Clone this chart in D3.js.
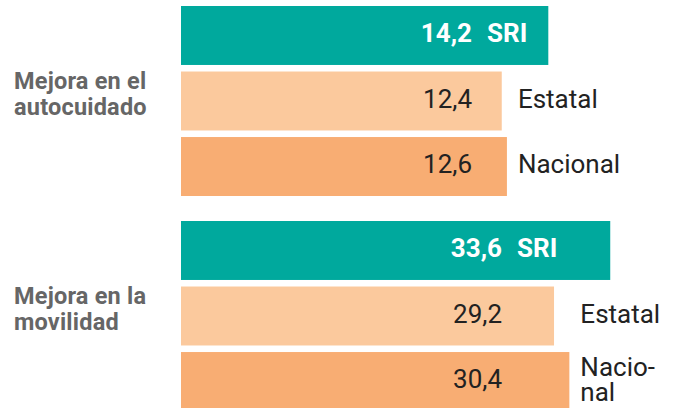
<!DOCTYPE html>
<html>
<head>
<meta charset="utf-8">
<script src="https://cdn.jsdelivr.net/npm/d3@7"></script>
<style>
  html, body { margin: 0; padding: 0; background: #fff; }
  svg { display: block; font-family: Roboto, "Noto Sans", sans-serif; }
</style>
</head>
<body>
<svg id="chart" width="678" height="408"></svg>
<script>
// Indicator groups and their two-line titles
const groups = ["autocuidado", "movilidad"];
const groupTitles = [["Mejora en el", "autocuidado"], ["Mejora en la", "movilidad"]];

// Comparison series (bar order within each group)
const series = ["SRI", "Estatal", "Nacional"];

// Values per group, in series order
const autocuidadoValues = [14.2, 12.4, 12.6];
const movilidadValues = [33.6, 29.2, 30.4];

// Series names written beside the orange bars of each group
const autocuidadoNames = [["Estatal"], ["Nacional"]];
const movilidadNames = [["Estatal"], ["Nacio-", "nal"]];

const values = [autocuidadoValues, movilidadValues];
const names = [autocuidadoNames, movilidadNames];

const colors = { SRI: "#00A99D", Estatal: "#FBC99D", Nacional: "#F8AD73" };

const fmt = d3.formatLocale({ decimal: ",", thousands: ".", grouping: [3], currency: ["", ""] }).format(".1f");

const svg = d3.select("#chart");
const left = 181;

// Each group is drawn on its own horizontal scale
const xScales = [
  d3.scaleLinear().domain([0, 15]).range([left, left + 388]),
  d3.scaleLinear().domain([0, 40]).range([left, left + 511])
];
// Right edge of the value labels in each group
const valueEnd = [472, 502];

const yGroup = d3.scaleBand().domain(groups).range([6, 411]).paddingInner(25 / 215);
const yBar = d3.scaleBand().domain(series).range([0, yGroup.bandwidth()]).paddingInner(0.1);

groups.forEach((g, gi) => {
  const x = xScales[gi];
  const gy = yGroup(g);
  const grp = svg.append("g").attr("transform", `translate(0,${gy})`);
  const rows = series.map((s, i) => ({ s, v: values[gi][i] }));

  grp.selectAll("rect").data(rows).join("rect")
    .attr("x", x(0))
    .attr("y", d => yBar(d.s))
    .attr("width", d => x(d.v) - x(0))
    .attr("height", yBar.bandwidth())
    .attr("fill", d => colors[d.s]);

  const mid = d => yBar(d.s) + yBar.bandwidth() / 2 + 6.5;

  // value labels
  grp.selectAll("text.val").data(rows).join("text")
    .attr("class", "val")
    .attr("x", valueEnd[gi])
    .attr("y", mid)
    .attr("text-anchor", "end")
    .attr("font-size", 26)
    .attr("font-weight", d => d.s === "SRI" ? 700 : 400)
    .attr("fill", d => d.s === "SRI" ? "#fff" : "#222")
    .text(d => fmt(d.v));

  // SRI tag inside the teal bar
  grp.append("text")
    .attr("x", valueEnd[gi] + 15)
    .attr("y", mid(rows[0]))
    .attr("font-size", 26)
    .attr("font-weight", 700)
    .attr("fill", "#fff")
    .text("SRI");

  // series names to the right of the orange bars
  const nameX = d3.max(rows.slice(1), d => x(d.v)) + 11;
  rows.slice(1).forEach((d, i) => {
    const lines = names[gi][i];
    const t = grp.append("text")
      .attr("x", nameX)
      .attr("y", mid(d) - (lines.length - 1) * 12.5)
      .attr("font-size", 26)
      .attr("fill", "#222");
    lines.forEach((ln, li) => {
      t.append("tspan").attr("x", nameX).attr("dy", li === 0 ? 0 : 25).text(ln);
    });
  });

  // group title on the left
  const cy = yBar(series[1]) + yBar.bandwidth() / 2;
  const title = grp.append("text")
    .attr("x", 14)
    .attr("y", cy - 12.5)
    .attr("font-size", 23.5)
    .attr("font-weight", 700)
    .attr("letter-spacing", 0.2)
    .attr("fill", "#666");
  groupTitles[gi].forEach((ln, li) => {
    title.append("tspan").attr("x", 14).attr("dy", li === 0 ? 0 : 26).text(ln);
  });
});
</script>
</body>
</html>
